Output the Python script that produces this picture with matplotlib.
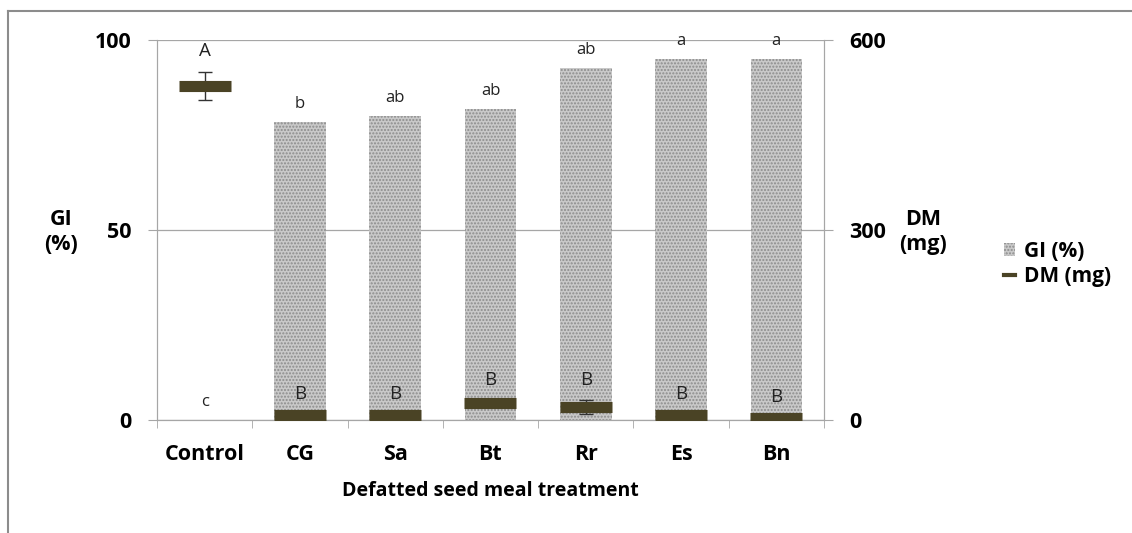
import numpy as np
import matplotlib
matplotlib.use('Agg')
import matplotlib.pyplot as plt
from matplotlib.patches import Patch
from matplotlib.lines import Line2D

# data
treatments = ["Control", "CG", "Sa", "Bt", "Rr", "Es", "Bn"]
gi_pct = [0, 78.4, 80.0, 81.8, 92.6, 95.0, 95.0]
gi_letters = ["c", "b", "ab", "ab", "ab", "a", "a"]
dm_mg = [527, 8, 8, 27, 20, 8, 3]
dm_err = [22, 0, 0, 3, 11, 0, 0]
dm_letters = ["A", "B", "B", "B", "B", "B", "B"]

plt.rcParams['font.family'] = ['Open Sans', 'DejaVu Sans']
W, H = 1132, 533
fig = plt.figure(figsize=(W / 100, H / 100), dpi=100)
ax = fig.add_axes([157 / W, 1 - 420 / H, (824 - 157) / W, 380 / H])
ax2 = ax.twinx()

x = np.arange(len(treatments))
grid_c = '#a6a6a6'
bar_face = '#c9c9c9'
bar_hatch = '#8c8c8c'
fs = 15.5

ax.bar(x, gi_pct, width=0.54, color=bar_face, hatch='.....', edgecolor=bar_hatch,
       linewidth=0, zorder=2)
ax.set_ylim(0, 100)
ax.set_xlim(-0.5, len(treatments) - 0.5)
ax.set_yticks([0, 50, 100])
ax.yaxis.grid(True, color=grid_c, linewidth=0.9, zorder=0)
ax.set_axisbelow(True)

ax2.errorbar(x, dm_mg, yerr=dm_err, fmt='none', ecolor='#333333', elinewidth=1,
             capsize=5, capthick=1, zorder=4)
ax2.plot(x, dm_mg, linestyle='none', marker='_', markersize=38, markeredgewidth=8,
         color='#4a4325', zorder=5)
ax2.set_ylim(0, 600)
ax2.set_yticks([0, 300, 600])

for a in (ax, ax2):
    a.spines['top'].set_visible(False)
    for s in ('left', 'right', 'bottom'):
        a.spines[s].set_color(grid_c)
    a.tick_params(axis='y', length=6.5, color=grid_c, labelsize=fs, pad=11.5)
    for lab in a.get_yticklabels():
        lab.set_fontweight('bold')

ax.set_xticks(x)
ax.set_xticklabels(treatments, fontsize=fs, fontweight='bold')
ax.set_xticks(np.arange(len(treatments) + 1) - 0.5, minor=True)
ax.tick_params(axis='x', which='major', length=0, pad=17)
ax.tick_params(axis='x', which='minor', length=6, color=grid_c)
ax.set_xlabel("Defatted seed meal treatment", fontsize=14, fontweight='bold', labelpad=12)

# significance letters
for xi, v, t in zip(x, gi_pct, gi_letters):
    ax.annotate(t, (xi, v), xytext=(0, 13), textcoords='offset points',
                ha='center', va='center', fontsize=12, color='#222222', zorder=6)
for xi, v, e, t in zip(x, dm_mg, dm_err, dm_letters):
    ax2.annotate(t, (xi, v + e), xytext=(0, 15), textcoords='offset points',
                 ha='center', va='center', fontsize=13.5, color='#222222', zorder=6)

fig.text(61 / W, 1 - 232 / H, "GI\n(%)", ha='center', va='center', fontsize=fs,
         fontweight='bold', linespacing=1.25)
fig.text(923 / W, 1 - 232 / H, "DM\n(mg)", ha='center', va='center', fontsize=fs,
         fontweight='bold', linespacing=1.25)

handles = [Patch(facecolor=bar_face, hatch='.....', edgecolor=bar_hatch, linewidth=0),
           Line2D([], [], color='#4a4325', linewidth=3)]
fig.legend(handles, ["GI (%)", "DM (mg)"], loc='center left',
           bbox_to_anchor=(985 / W, 1 - 264 / H), frameon=False, handlelength=0.55,
           handleheight=0.55, handletextpad=0.4, labelspacing=0.2,
           prop={'size': 15, 'weight': 'bold'})

# outer chart frame (left and top edges only visible in the crop)
fig.add_artist(Line2D([8 / W, 8 / W], [0, 1 - 11 / H], color='#8c8c8c', linewidth=1.5))
fig.add_artist(Line2D([8 / W, 1], [1 - 11 / H, 1 - 11 / H], color='#8c8c8c', linewidth=1.5))

fig.savefig('out.png', dpi=100)
